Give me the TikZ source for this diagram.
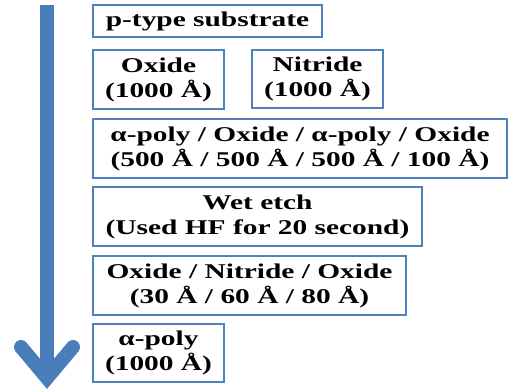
\documentclass[tikz,border=0pt]{standalone}
\usepackage{fontspec}
\setmainfont{Liberation Serif}[FakeStretch=1.4]
\definecolor{stepblue}{HTML}{4F81BD}
\definecolor{arrowblue}{HTML}{4A7EBB}
\tikzset{
  stepbox/.style={draw=stepblue, line width=2pt, fill=white, inner sep=0pt,
    align=center, font={\fontsize{21}{25}\selectfont\bfseries}},
  flowline/.style={draw=arrowblue, line width=14pt}
}
\begin{document}
\begin{tikzpicture}[x=1pt, y=-1pt]
\useasboundingbox (0,0) rectangle (513,389);
% process-flow arrow
\coordinate (top) at (47,5);
\coordinate (tip) at (47,378);
\coordinate (wl) at (21,347);
\coordinate (wr) at (73,347);
\draw[flowline] (top) -- (tip);
\draw[flowline, line cap=round, line join=miter] (wl) -- (tip) -- (wr);
% process steps
\node[stepbox, minimum width=229pt, minimum height=32pt] (sub) at (207.5,21) {p-type substrate};
\node[stepbox, minimum width=131pt, minimum height=59pt] (ox) at (158.5,79.5) {Oxide\\(1000 Å)};
\node[stepbox, minimum width=131pt, minimum height=58pt] (nit) at (317.5,79) {Nitride\\(1000 Å)};
\node[stepbox, minimum width=414pt, minimum height=59pt] (stack) at (300,148.5) {α-poly / Oxide / α-poly / Oxide\\(500 Å / 500 Å / 500 Å / 100 Å)};
\node[stepbox, minimum width=329pt, minimum height=59pt] (wet) at (257.5,216.5) {Wet etch\\(Used HF for 20 second)};
\node[stepbox, minimum width=313pt, minimum height=59pt] (ono) at (249.5,285.5) {Oxide / Nitride / Oxide\\(30 Å / 60 Å / 80 Å)};
\node[stepbox, minimum width=131pt, minimum height=58pt] (poly) at (158.5,353) {α-poly\\(1000 Å)};
\end{tikzpicture}
\end{document}
